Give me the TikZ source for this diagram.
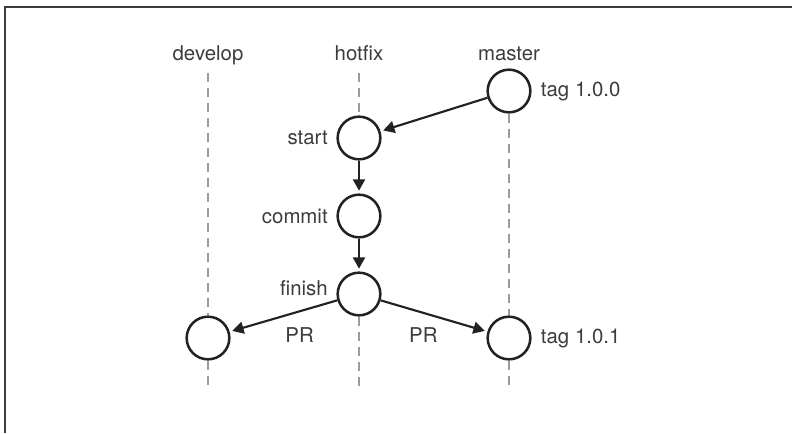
\documentclass[tikz,border=0pt]{standalone}
\usepackage{fontspec}
\setmainfont{TeX Gyre Heros}
\usetikzlibrary{arrows.meta,positioning}
\definecolor{lineK}{RGB}{34,34,34}
\definecolor{txtK}{RGB}{60,60,60}
\definecolor{dashG}{RGB}{155,155,155}

\begin{document}
\begin{tikzpicture}[x=0.75pt,y=-0.75pt,>={Triangle[length=8.5pt,width=9pt]},
  cnode/.style={circle,draw=lineK,line width=1.9pt,fill=white,minimum size=32pt,inner sep=0pt},
  lane/.style={dashG,line width=1.8pt,dash pattern=on 6.75pt off 4.5pt},
  flow/.style={->,lineK,line width=1.6pt,shorten >=2pt},
  txt/.style={text=txtK,font=\fontsize{15.3}{18}\selectfont}]
\useasboundingbox (0,0) rectangle (792,433);
\draw[txtK,line width=1.5pt] (5,433) -- (5,7) -- (792,7);
% branch names
\node[txt,anchor=base] (devname) at (208,60) {develop};
\node[txt,anchor=base] (hotname) at (359,60) {hotfix};
\node[txt,anchor=base] (mastname) at (509,60) {master};
\coordinate (devtop) at (208,73);  \coordinate (devbot) at (208,390);
\coordinate (hottop) at (359,73);  \coordinate (hotbot) at (359,390);
\coordinate (mastbot) at (509,390);
% commits
\node[cnode] (master) at (509,91) {};
\node[cnode] (start) at (359,138) {};
\node[cnode] (commit) at (359,216) {};
\node[cnode] (finish) at (359,294) {};
\node[cnode] (dev) at (208,338) {};
\node[cnode] (tagnew) at (509,338) {};
% lanes
\draw[lane] (devtop) -- (dev.north); \draw[lane] (dev.south) -- (devbot);
\draw[lane] (hottop) -- (start.north); \draw[lane] (finish.south) -- (hotbot);
\draw[lane] (master.south) -- (tagnew.north); \draw[lane] (tagnew.south) -- (mastbot);
% labels
\node[txt,right=3.5pt of master] (tagold) {tag 1.0.0};
\node[txt,right=3.5pt of tagnew] (tagnewlbl) {tag 1.0.1};
\node[txt,left=3pt of start] (startlbl) {start};
\node[txt,left=3pt of commit] (commitlbl) {commit};
\node[txt,left=3pt of finish,yshift=4.5pt] (finishlbl) {finish};
% flow
\draw[flow] (master) -- (start);
\draw[flow] (start) -- (commit);
\draw[flow] (commit) -- (finish);
\draw[flow] (finish) -- (dev) node[txt,pos=0.35,below=8pt] (prdev) {PR};
\draw[flow] (finish) -- (tagnew) node[txt,pos=0.4,below=7pt] (prmast) {PR};
\end{tikzpicture}
\end{document}
